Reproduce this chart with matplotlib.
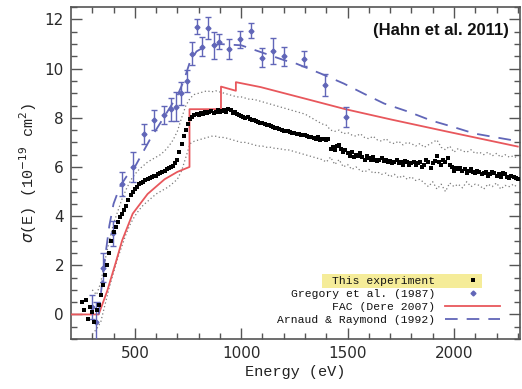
import numpy as np
import matplotlib
matplotlib.use("Agg")
import matplotlib.pyplot as plt
from matplotlib.patches import Rectangle

# ---------------- data ----------------
exp_E = np.arange(250, 2301, 10)
exp_val = [
    0.5, 0.2, 0.6, -0.2, 0.3, 0.1, -0.3, 0.2, 0.4, 0.8,
    1.2, 1.6, 2.0, 2.5, 3.0, 3.35, 3.55, 3.75, 3.95, 4.1,
    4.25, 4.4, 4.65, 4.85, 5.0, 5.1, 5.2, 5.3, 5.35, 5.4,
    5.45, 5.5, 5.55, 5.6, 5.62, 5.65, 5.7, 5.75, 5.8, 5.82,
    5.9, 5.95, 6.0, 6.05, 6.15, 6.3, 6.6, 6.95, 7.25, 7.5,
    7.75, 7.95, 8.05, 8.1, 8.15, 8.12, 8.2, 8.15, 8.25, 8.2,
    8.22, 8.28, 8.2, 8.25, 8.3, 8.22, 8.28, 8.3, 8.25, 8.35,
    8.3, 8.2, 8.25, 8.15, 8.12, 8.08, 8.05, 8.0, 8.02, 7.95,
    7.92, 7.9, 7.85, 7.82, 7.8, 7.78, 7.75, 7.72, 7.7, 7.68,
    7.62, 7.6, 7.58, 7.55, 7.5, 7.48, 7.46, 7.45, 7.42, 7.4,
    7.38, 7.36, 7.33, 7.3, 7.3, 7.28, 7.25, 7.22, 7.2, 7.18,
    7.15, 7.2, 7.1, 7.15, 7.12, 7.1, 7.15, 6.75, 6.8, 6.7,
    6.85, 6.9, 6.75, 6.6, 6.7, 6.55, 6.45, 6.6, 6.4, 6.5,
    6.45, 6.55, 6.4, 6.3, 6.45, 6.35, 6.3, 6.4, 6.3, 6.25,
    6.3, 6.35, 6.25, 6.3, 6.2, 6.25, 6.15, 6.2, 6.3, 6.15,
    6.2, 6.1, 6.25, 6.2, 6.1, 6.15, 6.2, 6.1, 6.15, 6.2,
    6.0, 6.1, 6.3, 6.2, 5.95, 6.15, 6.25, 6.45, 6.2, 6.1,
    6.3, 6.2, 6.35, 6.1, 6.0, 5.85, 5.95, 5.9, 5.95, 5.85,
    5.9, 5.75, 5.85, 5.9, 5.8, 5.75, 5.85, 5.8, 5.7, 5.75,
    5.8, 5.65, 5.7, 5.8, 5.75, 5.65, 5.7, 5.6, 5.75, 5.7,
    5.6, 5.55, 5.65, 5.6, 5.55, 5.5,
]

band_E = np.arange(300, 2301, 20)
band_upper = [
    1.0, 0.8, 1.3, 2.2, 3.0, 3.7, 4.2, 4.7, 5.1, 5.45,
    5.7, 5.9, 6.05, 6.2, 6.3, 6.4, 6.5, 6.65, 6.85, 7.1,
    7.45, 8.0, 8.5, 8.8, 8.95, 9.0, 9.05, 9.1, 9.05, 9.1,
    9.05, 9.0, 8.95, 8.9, 8.85, 8.85, 8.8, 8.75, 8.75, 8.7,
    8.65, 8.6, 8.55, 8.5, 8.45, 8.4, 8.35, 8.3, 8.25, 8.2,
    8.15, 8.05, 7.95, 7.85, 7.75, 7.7, 7.5, 7.45, 7.5, 7.35,
    7.4, 7.3, 7.25, 7.35, 7.2, 7.15, 7.25, 7.1, 7.05, 7.15,
    7.0, 6.95, 7.05, 6.9, 7.0, 6.95, 6.85, 6.95, 6.8, 6.9,
    7.0, 7.1, 6.8, 6.7, 6.85, 6.6, 6.75, 6.65, 6.6, 6.7,
    6.55, 6.6, 6.5, 6.6, 6.45, 6.55, 6.4, 6.5, 6.4, 6.45,
    6.35,
]
band_lower = [
    -0.8, -0.6, -0.3, 0.4, 1.1, 1.7, 2.3, 2.8, 3.3, 3.7,
    4.0, 4.25, 4.45, 4.6, 4.75, 4.9, 5.0, 5.1, 5.2, 5.35,
    5.5, 5.85, 6.4, 6.95, 7.05, 7.1, 7.15, 7.2, 7.25, 7.25,
    7.2, 7.2, 7.15, 7.1, 7.05, 7.0, 7.0, 6.95, 6.9, 6.85,
    6.85, 6.8, 6.8, 6.75, 6.75, 6.7, 6.7, 6.65, 6.6, 6.55,
    6.5, 6.45, 6.4, 6.35, 6.3, 6.2, 6.4, 6.1, 6.3, 6.0,
    6.1, 5.9, 6.0, 5.85, 5.8, 5.9, 5.75, 5.8, 5.7, 5.75,
    5.6, 5.7, 5.55, 5.65, 5.5, 5.6, 5.45, 5.5, 5.35, 5.2,
    5.4, 5.1, 5.3, 5.0, 5.35, 5.2, 5.3, 5.15, 5.4, 5.2,
    5.3, 5.25, 5.1, 5.3, 5.2, 5.35, 5.1, 5.25, 5.2, 5.3,
    5.15,
]

gregory_E = [300, 318, 350, 398, 440, 493, 545, 592, 639, 672, 695, 719, 743,
             768, 794, 818, 845, 870, 895, 942, 993, 1047, 1100, 1148, 1200,
             1295, 1393, 1492]
gregory_val = [0.3, -0.3, 1.9, 3.3, 5.3, 6.0, 7.35, 7.9, 8.1, 8.35, 8.45, 9.0,
               9.5, 10.6, 11.7, 10.9, 11.65, 10.95, 11.1, 10.8, 11.2, 11.55,
               10.45, 10.7, 10.5, 10.4, 9.35, 8.03]
gregory_err = [0.5, 0.8, 0.6, 0.5, 0.5, 0.6, 0.4, 0.4, 0.37, 0.47, 0.6, 0.47,
               0.45, 0.47, 0.3, 0.4, 0.44, 0.54, 0.3, 0.4, 0.35, 0.3,
               0.37, 0.53, 0.4, 0.3, 0.45, 0.4]

fac_E = [200, 330, 370, 410, 440, 490, 560, 600, 640, 700, 757, 757, 905, 905,
         975, 975, 1091, 1300, 1490, 1705, 1962, 2300]
fac_val = [0, 0, 0.95, 2.1, 3.0, 4.1, 4.9, 5.2, 5.5, 5.8, 6.0, 8.35, 8.35, 9.27,
           9.1, 9.45, 9.25, 8.78, 8.35, 7.93, 7.45, 6.83]

ar_E = [330, 345, 360, 380, 400, 430, 460, 500, 570, 635, 700, 730, 760, 790,
        830, 900, 1000, 1100, 1200, 1260, 1374, 1483, 1577, 1672, 1785, 1893,
        1992, 2096, 2200, 2300]
ar_val = [0, 1.2, 2.3, 3.6, 4.5, 5.2, 5.6, 6.0, 7.1, 8.0, 8.9, 9.5, 10.3, 10.7,
          10.9, 11.0, 10.95, 10.65, 10.35, 10.2, 9.8, 9.39, 8.98, 8.58, 8.25,
          7.89, 7.64, 7.36, 7.2, 7.05]

labels = ["This experiment", "Gregory et al. (1987)", "FAC (Dere 2007)",
          "Arnaud & Raymond (1992)"]
x_ticks = [500, 1000, 1500, 2000]
y_ticks = [0, 2, 4, 6, 8, 10, 12]

# ---------------- style ----------------
blue = "#6166b8"
red = "#e8575c"
gray = "#7a7a7a"
frame = "#555555"
mono = "Liberation Mono"

fig = plt.figure(figsize=(5.22, 3.89), dpi=100)
ax = fig.add_axes([0.136, 0.1285, 0.860, 0.853])

ax.plot(band_E, band_upper, linestyle=(0, (1, 2)), color=gray, lw=0.9, zorder=2)
ax.plot(band_E, band_lower, linestyle=(0, (1, 2)), color=gray, lw=0.9, zorder=2)

h_fac, = ax.plot(fac_E, fac_val, color=red, lw=1.3, zorder=3, label=labels[2])
h_ar, = ax.plot(ar_E, ar_val, color=blue, lw=1.3, dashes=(7, 5), zorder=3,
                label=labels[3])

ax.errorbar(gregory_E, gregory_val, yerr=gregory_err, fmt="none", ecolor=blue,
            elinewidth=1.0, capsize=2, capthick=1.0, zorder=4)
h_gr, = ax.plot(gregory_E, gregory_val, linestyle="none", marker="D",
                markersize=2.5, color=blue, zorder=5, label=labels[1])

h_exp, = ax.plot(exp_E, exp_val, linestyle="none", marker="s", markersize=2.2,
                 color="black", markeredgewidth=0, zorder=6, label=labels[0])

ax.set_xlim(200, 2310)
ax.set_ylim(-1, 12.5)
ax.set_xticks(x_ticks)
ax.set_yticks(y_ticks)
ax.set_xticks(np.arange(300, 2301, 100), minor=True)
ax.set_yticks(np.arange(-1, 12.6, 0.5), minor=True)
ax.tick_params(which="both", direction="in", top=True, right=True,
               color=frame, width=1.0)
ax.tick_params(which="major", length=8, labelsize=11, pad=5, labelcolor="#2a2a2a")
ax.tick_params(which="minor", length=4)
for s in ax.spines.values():
    s.set_color(frame)
    s.set_linewidth(1.2)

ax.set_xlabel("Energy (eV)", family=mono, fontsize=11, color="#222222",
              labelpad=3)
ax.set_ylabel(r"$\sigma$(E) (10$^{-19}$ cm$^{2}$)", family=mono, fontsize=11,
              color="#222222", labelpad=4)

ax.text(0.975, 0.93, "(Hahn et al. 2011)", transform=ax.transAxes,
        ha="right", va="center", fontsize=12, fontweight="bold",
        family="Liberation Sans", color="#111111")

leg = ax.legend(handles=[h_exp, h_gr, h_fac, h_ar], loc="lower right",
                bbox_to_anchor=(500 / 522, 64 / 389),
                bbox_transform=fig.transFigure, frameon=False,
                markerfirst=False, prop={"family": mono, "size": 8.2},
                handlelength=4.8, handletextpad=0.9, labelspacing=0.25,
                borderpad=0, borderaxespad=0)
for t in leg.get_texts():
    t.set_color("#111111")

fig.canvas.draw()
r = fig.canvas.get_renderer()
tb = leg.get_texts()[0].get_window_extent(r)
inv = fig.transFigure.inverted()
x0, y0 = inv.transform((tb.x0 - 10, tb.y0 - 2))
x1, y1 = inv.transform((tb.x1 + 47, tb.y1 + 2))
fig.patches.append(Rectangle((x0, y0), x1 - x0, y1 - y0,
                             transform=fig.transFigure, facecolor="#f5ec99",
                             edgecolor="none", zorder=0.5))
ax.set_zorder(1)
ax.patch.set_alpha(0)

fig.savefig("out.png", dpi=100)
